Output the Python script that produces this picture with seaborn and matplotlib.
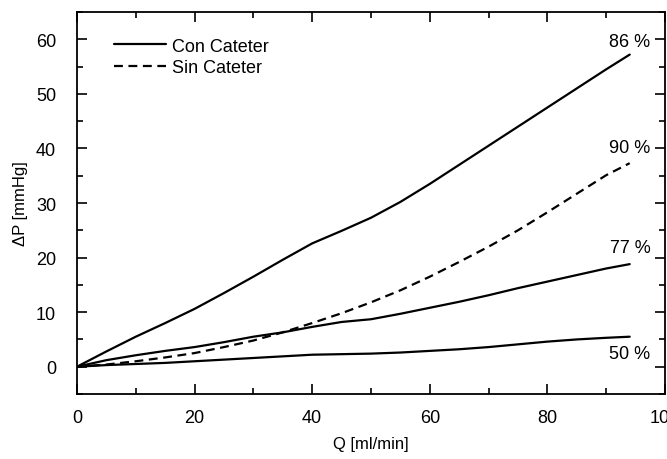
import pandas as pd
import matplotlib
matplotlib.use("Agg")
import matplotlib.pyplot as plt
import seaborn as sns
from matplotlib.ticker import MultipleLocator

# Flow values (ml/min)
q = [0, 5, 10, 15, 20, 25, 30, 35, 40, 45, 50, 55, 60, 65, 70, 75, 80, 85, 90, 94]

# Pressure drop (mmHg) for each stenosis
dp_86 = [0, 2.8, 5.5, 8, 10.6, 13.5, 16.5, 19.6, 22.6, 24.9, 27.3, 30.2, 33.5, 37, 40.5, 44, 47.5, 51, 54.5, 57.2]
dp_90 = [0, 0.4, 1, 1.7, 2.5, 3.6, 4.8, 6.3, 8, 9.8, 11.8, 14, 16.5, 19.2, 22, 25, 28.3, 31.7, 35.1, 37.3]
dp_77 = [0, 1.2, 2.1, 2.9, 3.6, 4.5, 5.5, 6.3, 7.3, 8.2, 8.7, 9.7, 10.8, 11.9, 13.1, 14.4, 15.6, 16.8, 18, 18.8]
dp_50 = [0, 0.3, 0.5, 0.7, 1, 1.3, 1.6, 1.9, 2.2, 2.3, 2.4, 2.6, 2.9, 3.2, 3.6, 4.1, 4.6, 5, 5.3, 5.5]

labels = ["86 %", "90 %", "77 %", "50 %"]
label_y = [59.6, 40.2, 21.8, 2.4]

sns.set_style("ticks")
plt.rcParams["font.family"] = ["Liberation Sans", "DejaVu Sans"]
plt.rcParams["text.color"] = "black"
plt.rcParams["axes.labelcolor"] = "black"
plt.rcParams["xtick.color"] = "black"
plt.rcParams["ytick.color"] = "black"
plt.rcParams["axes.edgecolor"] = "black"

fig = plt.figure(figsize=(6.67, 4.6), dpi=100)
ax = fig.add_axes([0.1154, 0.1413, 0.8816, 0.8304])

kw = dict(color="black", linewidth=1.6, ax=ax)
sns.lineplot(x=q, y=dp_86, label="Con Cateter", **kw)
sns.lineplot(x=q, y=dp_90, label="Sin Cateter", linestyle=(0, (4, 2.5)), **kw)
sns.lineplot(x=q, y=dp_77, **kw)
sns.lineplot(x=q, y=dp_50, **kw)

for lab, yy in zip(labels, label_y):
    ax.text(97.5, yy, lab, ha="right", va="center", fontsize=13)

ax.set_xlim(0, 100)
ax.set_ylim(-5, 65)
ax.xaxis.set_major_locator(MultipleLocator(20))
ax.xaxis.set_minor_locator(MultipleLocator(10))
ax.yaxis.set_major_locator(MultipleLocator(10))
ax.yaxis.set_minor_locator(MultipleLocator(5))
ax.tick_params(which="both", direction="in", top=True, right=True, labelsize=13, width=1.2)
ax.tick_params(which="major", length=7)
ax.tick_params(which="minor", length=4)
ax.tick_params(axis="x", which="major", pad=11)
ax.tick_params(axis="y", which="major", pad=15)
for s in ax.spines.values():
    s.set_linewidth(1.3)

ax.set_xlabel("Q [ml/min]", fontsize=12, labelpad=7)
ax.set_ylabel("ΔP [mmHg]", fontsize=12, labelpad=6)

ax.legend(loc="upper left", frameon=False, fontsize=13, handlelength=2.9,
          handletextpad=0.3, labelspacing=0.25, bbox_to_anchor=(0.035, 0.975))

fig.savefig("out.png", dpi=100)
